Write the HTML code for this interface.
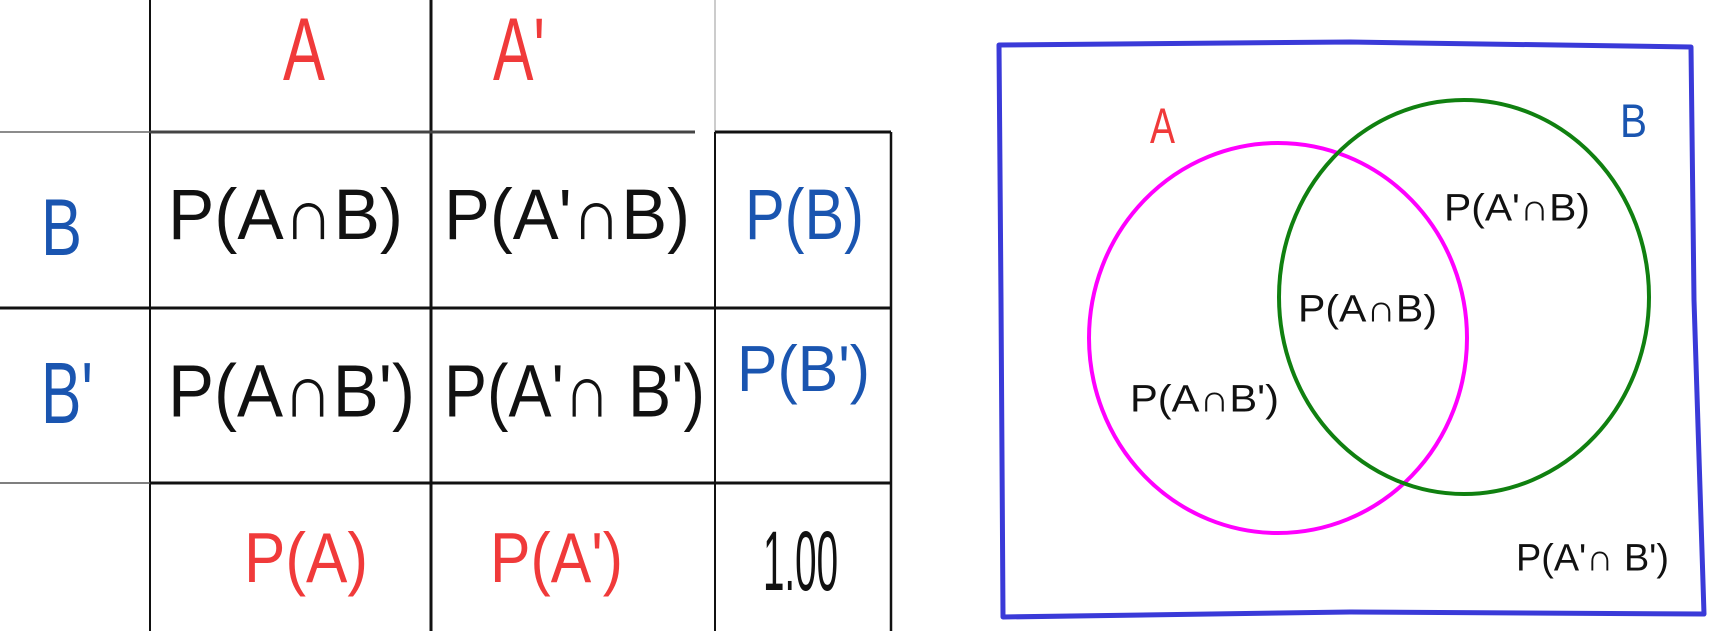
<!DOCTYPE html>
<html><head><meta charset="utf-8"><style>
html,body{margin:0;padding:0;background:#fff;}
svg{display:block;}
text{font-family:"Liberation Sans",sans-serif;}
</style></head><body>
<svg id="s" width="1717" height="631" viewBox="0 0 1717 631" xmlns="http://www.w3.org/2000/svg">
  <g stroke="#111" fill="none">
    <line x1="150" y1="0" x2="150" y2="631" stroke-width="2"/>
    <line x1="431" y1="0" x2="431" y2="631" stroke-width="3"/>
    <line x1="715" y1="0" x2="715" y2="132" stroke="#bbb" stroke-width="1.5"/>
    <line x1="715" y1="132" x2="715" y2="631" stroke-width="2"/>
    <line x1="891" y1="132" x2="891" y2="631" stroke-width="2.5"/>
    <line x1="0" y1="132" x2="150" y2="132" stroke="#666" stroke-width="1.5"/>
    <line x1="150" y1="132" x2="695" y2="132" stroke="#444" stroke-width="3"/>
    <line x1="715" y1="132" x2="891" y2="132" stroke-width="3"/>
    <line x1="0" y1="308" x2="891" y2="308" stroke-width="3"/>
    <line x1="0" y1="483" x2="150" y2="483" stroke="#555" stroke-width="1.5"/>
    <line x1="150" y1="483" x2="891" y2="483" stroke-width="3"/>
  </g>
  <g>
    <path d="M999 45 L1350 42 L1691 47 L1694 300 L1704 614 L1350 612 L1003 617 L1001 300 Z" fill="none" stroke="#3a3ad8" stroke-width="5" stroke-linejoin="round"/>
    <ellipse cx="1278" cy="338" rx="189" ry="195" fill="none" stroke="#ff00ff" stroke-width="4"/>
    <ellipse cx="1464" cy="297" rx="185" ry="197" fill="none" stroke="#108010" stroke-width="4"/>
  </g>
  <g id="labels"></g>
</svg>
<script>
// [text, left, right, top, bottom, color, kind(1=paren text,0=caps), name]
const labelTexts = ["A","A'","B","B'","P(A∩B)","P(A'∩B)","P(B)","P(A∩B')","P(A'∩ B')","P(B')","P(A)","P(A')","1.00","A","B","P(A'∩B)","P(A∩B)","P(A∩B')","P(A'∩ B')"];
const labelNames = ["header-a","header-a-prime","row-b","row-b-prime","cell-a-and-b","cell-a-prime-and-b","total-b","cell-a-and-b-prime","cell-a-prime-and-b-prime","total-b-prime","total-a","total-a-prime","grand-total","venn-label-a","venn-label-b","venn-a-prime-and-b","venn-a-and-b","venn-a-and-b-prime","venn-a-prime-and-b-prime"];
const boxes = [[283,325,16,80],[493,545,16,80],[41,82,197,255],[41,93,360,423],[168,403,183,251],[444,690,183,251],[745,864,183,251],[168,415,358,429],[444,705,358,429],[737,870,340,402],[244,368,527,594],[490,623,527,594],[763,838,529,590],[1150,1175,107,143],[1620,1647,103,137],[1444,1590,191,227],[1298,1437,292,328],[1130,1279,382,418],[1516,1669,541,577]];
const colors = ["#f03a3a","#f03a3a","#1a55b0","#1a55b0","#111","#111","#1a55b0","#111","#111","#1a55b0","#f03a3a","#f03a3a","#111","#f03a3a","#1a55b0","#111","#111","#111","#111"];
const g = document.getElementById('labels');
labelTexts.forEach((t,i)=>{
  const [l,r,tp,b] = boxes[i];
  const h = b-tp;
  const paren = t.indexOf('(')>=0;
  const fs = paren ? h*1.05 : h/0.72;
  const base = paren ? b - 0.17*fs : b;
  const el = document.createElementNS('http://www.w3.org/2000/svg','text');
  
  
  el.setAttribute('x', l);
  el.setAttribute('y', base);
  el.setAttribute('font-size', fs);
  el.setAttribute('fill', colors[i]);
  el.setAttribute('textLength', r-l);
  el.setAttribute('lengthAdjust', 'spacingAndGlyphs');
  el.textContent = t;
  g.appendChild(el);
});
</script>
</body></html>
